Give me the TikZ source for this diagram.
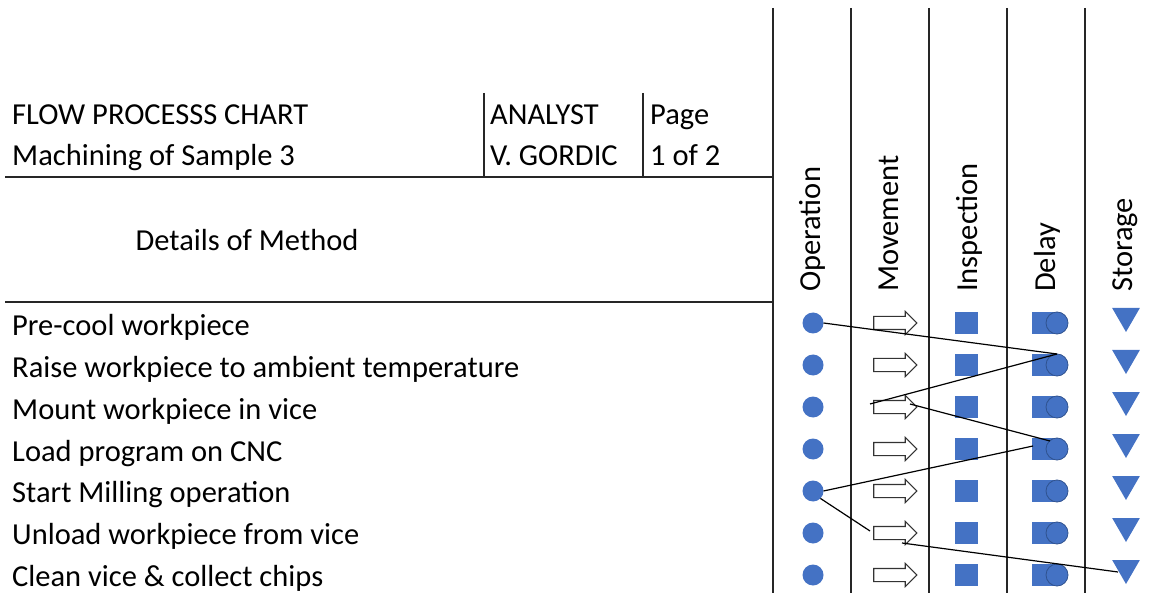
\documentclass[tikz,border=0pt]{standalone}
\usepackage{fontspec}
\setmainfont{Carlito}
\usetikzlibrary{shapes.arrows,shapes.geometric}
\definecolor{obl}{HTML}{4472C4}
\definecolor{obd}{HTML}{2F528F}
\begin{document}
\begin{tikzpicture}[x=1pt,y=-1pt,
  gridline/.style={line width=1.6pt, draw=black!85},
  lbl/.style={anchor=base west, inner sep=0, font=\fontsize{30.5}{36}\selectfont},
  hdr/.style={rotate=90, anchor=west, inner sep=0, font=\fontsize{30.5}{36}\selectfont},
  opsym/.style={circle, fill=obl, minimum size=21pt, inner sep=0, outer sep=0},
  mvsym/.style={single arrow, draw=black!80, fill=white, line width=1.1pt, minimum height=43pt, minimum width=22pt, single arrow head extend=5pt, inner xsep=0, inner ysep=6pt, outer sep=0},
  insym/.style={rectangle, fill=obl, minimum width=23pt, minimum height=22pt, inner sep=0, outer sep=0},
  delr/.style={rectangle, fill=obl, minimum width=22pt, minimum height=22pt, inner sep=0, outer sep=0},
  delc/.style={circle, fill=obl, draw=obd, line width=0.8pt, minimum size=22pt, inner sep=0, outer sep=0},
  stsym/.style={regular polygon, regular polygon sides=3, shape border rotate=180, fill=obl, minimum size=32pt, inner sep=0, outer sep=0},
  conn/.style={line width=1.2pt, draw=black}
]
\useasboundingbox (0,0) rectangle (1156,593);
% grid
\foreach \xx in {773,851,929,1007,1085} \draw[gridline] (\xx,8) -- (\xx,593);
\draw[gridline] (5,177) -- (773,177);
\draw[gridline] (5,302) -- (773,302);
\draw[gridline] (484,93) -- (484,177);
\draw[gridline] (643,93) -- (643,177);
% header texts
\node[lbl] (t1) at (12,125) {FLOW PROCESSS CHART};
\node[lbl] (t2) at (12,166) {Machining of Sample 3};
\node[lbl] (t3) at (490,125) {ANALYST};
\node[lbl] (t4) at (490,166) {V. GORDIC};
\node[lbl] (t5) at (650,125) {Page};
\node[lbl] (t6) at (650,166) {1 of 2};
\node[lbl, anchor=base] (t7) at (247,251) {Details of Method};
\node[hdr] (hO) at (812,292) {Operation};
\node[hdr] (hM) at (889,292) {Movement};
\node[hdr] (hI) at (969,292) {Inspection};
\node[hdr] (hD) at (1047,292) {Delay};
\node[hdr] (hS) at (1125,292) {Storage};
% rows
\foreach \i/\t in {1/Pre-cool workpiece,2/Raise workpiece to ambient temperature,3/Mount workpiece in vice,4/Load program on CNC,5/Start Milling operation,6/Unload workpiece from vice,7/Clean vice \& collect chips}{
  \pgfmathsetmacro\yy{323+42*(\i-1)}
  \pgfmathsetmacro\yb{336+41.7*(\i-1)}
  \node[lbl] (r\i) at (12,\yb) {\t};
  \node[opsym] (op\i) at (813,\yy) {};
  \node[mvsym] (mv\i) at (892,\yy) {};
  \node[insym] (in\i) at (966,\yy) {};
  \node[delr] (dr\i) at (1043,\yy) {};
  \node[delc] (dc\i) at (1057,\yy) {};
  \node[stsym] (st\i) at (1126,\yy-7) {};
}
% connectors
\draw[conn] (op1.east) -- (dc2.north);
\draw[conn] (dc2.north) -- ([shift={(-22,-3)}]mv3.center);
\draw[conn] ([shift={(18,-3)}]mv3.center) -- ([shift={(-7,-8)}]dc4.center);
\draw[conn] ([shift={(-10,-3)}]dr4.center) -- (op5.east);
\draw[conn] (op5.south east) -- ([shift={(-22,-2)}]mv6.center);
\draw[conn] ([shift={(10,10)}]mv6.center) -- ([shift={(-8,4)}]st7.center);
\end{tikzpicture}
\end{document}
